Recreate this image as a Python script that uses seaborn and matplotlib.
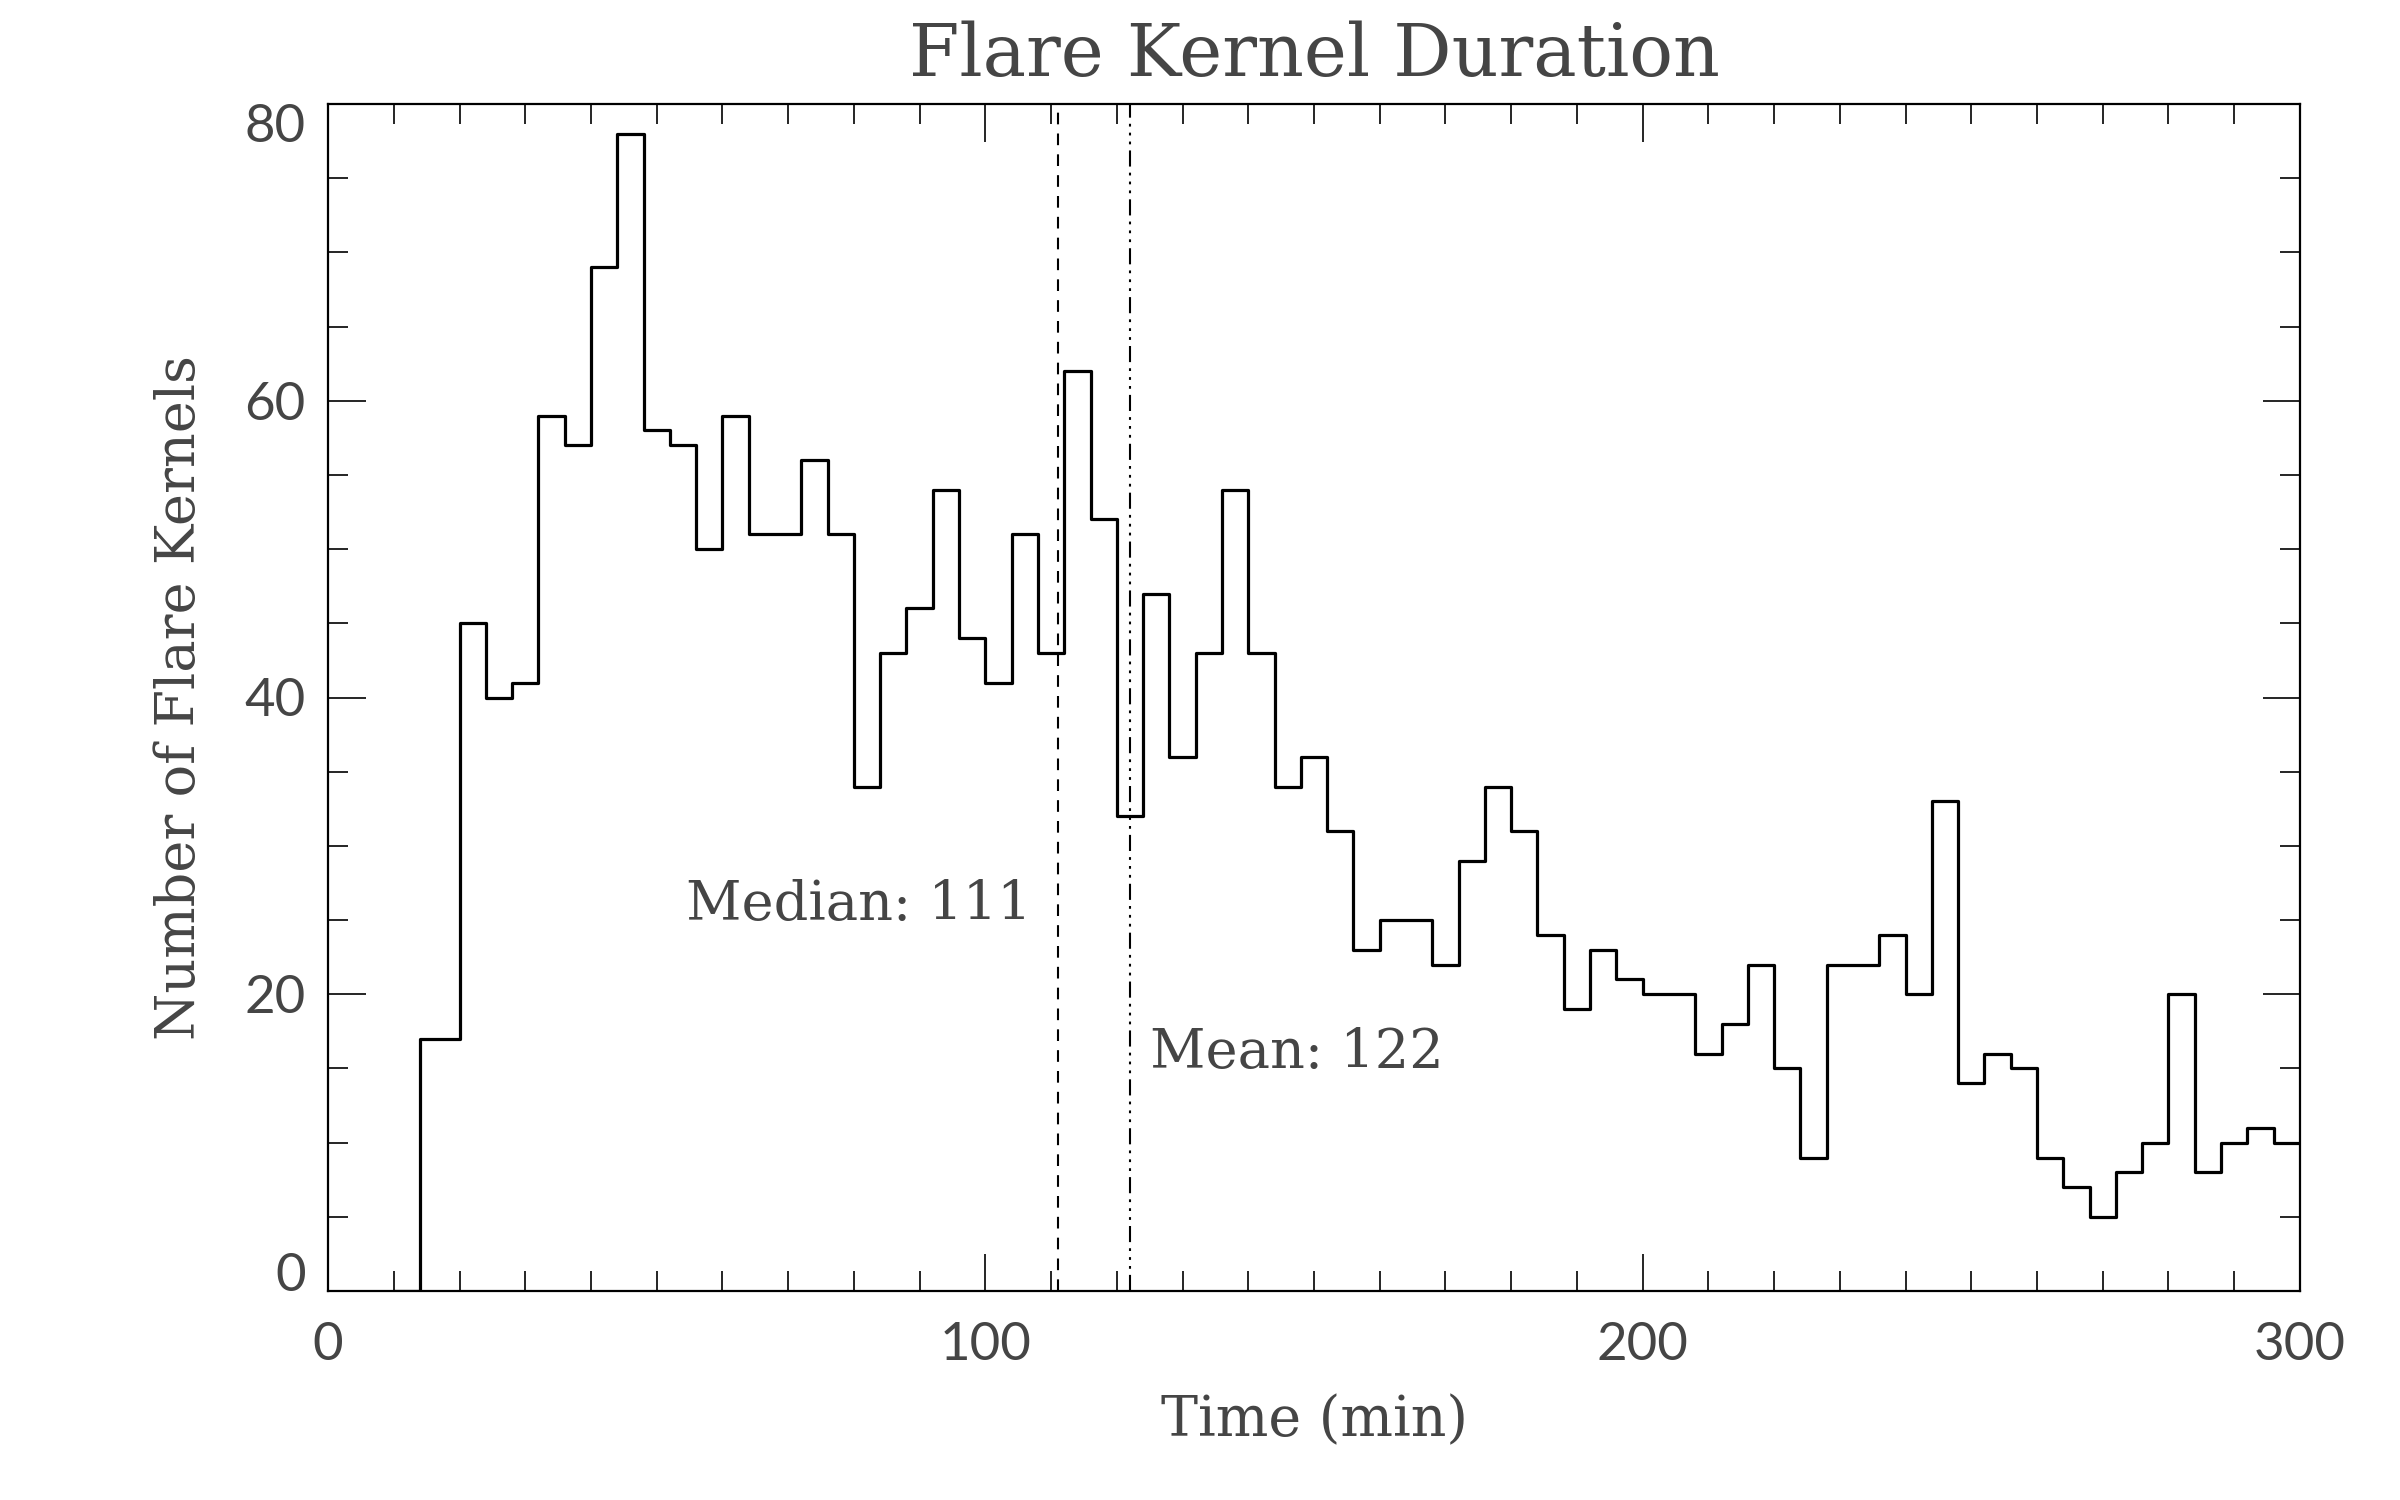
import numpy as np
import pandas as pd
import matplotlib
matplotlib.use("Agg")
import matplotlib.pyplot as plt
from matplotlib.ticker import MultipleLocator
import seaborn as sns

# ---------------- data ----------------
bin_edges = [10, 14] + list(range(20, 301, 4))
counts = [0, 17,
          45, 40, 41, 59, 57, 69, 78, 58, 57, 50,
          59, 51, 51, 56, 51, 34, 43, 46, 54, 44,
          41, 51, 43, 62, 52, 32, 47, 36, 43, 54,
          43, 34, 36, 31, 23, 25, 25, 22, 29, 34,
          31, 24, 19, 23, 21, 20, 20, 16, 18, 22,
          15, 9, 22, 22, 24, 20, 33, 14, 16, 15,
          9, 7, 5, 8, 10, 20, 8, 10, 11, 10]
median_val = 111
mean_val = 122
x_ticks = [0, 100, 200, 300]
y_ticks = [0, 20, 40, 60, 80]
title = "Flare Kernel Duration"
xlabel = "Time (min)"
ylabel = "Number of Flare Kernels"

edges = [float(e) for e in bin_edges]
centers = [(a + b) / 2 for a, b in zip(edges[:-1], edges[1:])]
df = pd.DataFrame({"time": centers, "count": counts})

# ---------------- style ----------------
sns.set_style("ticks")
plt.rcParams["lines.scale_dashes"] = False
TXT = "#454545"
serif = ["DejaVu Serif", "Liberation Serif"]
sans = ["Lato", "DejaVu Sans"]

fig = plt.figure(figsize=(12, 7.5), dpi=200)
ax = fig.add_axes([0.1367, 0.1393, 0.9583 - 0.1367, 0.9307 - 0.1393])

sns.histplot(data=df, x="time", weights="count", bins=edges,
             element="step", fill=False, color="black", linewidth=1.15, ax=ax)

ax.axvline(median_val, color="black", linewidth=0.75, linestyle=(0, (4.2, 3.3)))
ax.axvline(mean_val, color="black", linewidth=0.75,
           linestyle=(0, (5.8, 2.2, 1.0, 2.2, 1.0, 2.2, 1.0, 2.2)))

ax.text(median_val - 4, 25, f"Median: {median_val}", ha="right", va="baseline",
        fontsize=19.5, family=serif, color=TXT)
ax.text(mean_val + 3, 15, f"Mean: {mean_val}", ha="left", va="baseline",
        fontsize=19.5, family=serif, color=TXT)

ax.set_xlim(0, 300)
ax.set_ylim(0, 80)
ax.set_xticks(x_ticks)
ax.set_yticks(y_ticks)
ax.xaxis.set_minor_locator(MultipleLocator(10))
ax.yaxis.set_minor_locator(MultipleLocator(5))

ax.tick_params(which="both", direction="in", top=True, right=True,
               color="black", width=0.6)
ax.tick_params(which="major", length=13.5)
ax.tick_params(which="minor", length=7.2)
ax.tick_params(axis="x", which="major", pad=11)
ax.tick_params(axis="y", which="major", pad=8)
for lab in ax.get_xticklabels() + ax.get_yticklabels():
    lab.set_fontfamily(sans)
    lab.set_fontsize(19)
    lab.set_color(TXT)
    lab.set_fontweight("normal")

for sp in ax.spines.values():
    sp.set_visible(True)
    sp.set_linewidth(0.8)
    sp.set_color("black")

ax.set_xlabel(xlabel, fontsize=20, family=serif, color=TXT, labelpad=9)
ax.set_ylabel(ylabel, fontsize=19.5, family=serif, color=TXT, labelpad=14)
ax.set_title(title, fontsize=26.2, family=serif, color=TXT, pad=10)

yt = ax.yaxis.get_major_ticks()
yt[0].label1.set_verticalalignment("baseline")
yt[-1].label1.set_verticalalignment("top")

fig.savefig("out.png", dpi=200, facecolor="white")
